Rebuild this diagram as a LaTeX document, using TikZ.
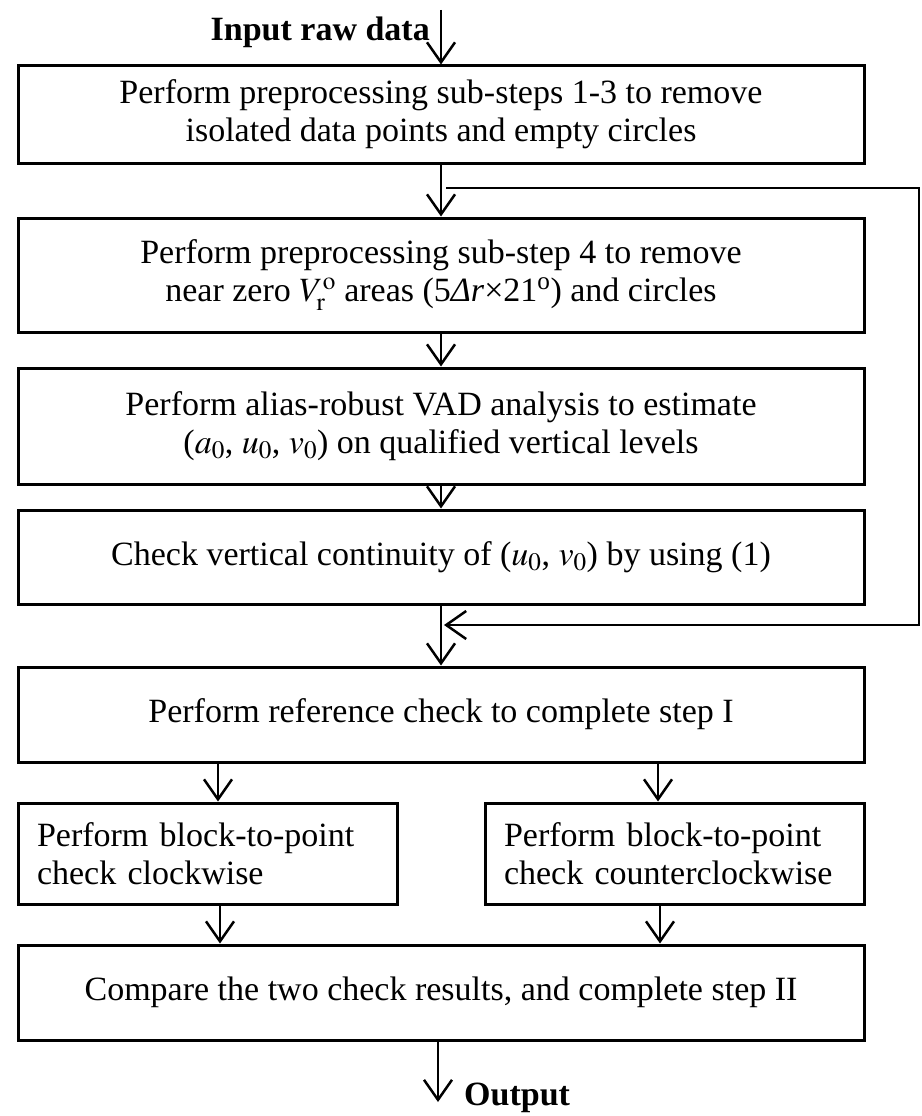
\documentclass[tikz,border=0pt]{standalone}
\usepackage{mathptmx}
\usepackage{fontspec}
\setmainfont{Liberation Serif}
\usetikzlibrary{arrows.meta}

\begin{document}
\begin{tikzpicture} [x=1pt, y=-1pt,
procbox/.style={draw, line width=3pt, minimum width=846pt, align=center, inner sep=0pt},
halfbox/.style={draw, line width=3pt, minimum width=379pt, minimum height=101pt,
                text width=341pt, align=left, inner sep=0pt},
flow/.style={line width=2.5pt, -{Straight Barb[length=20pt,width=28pt]}},
lbl/.style={font=\fontsize{34}{38}\selectfont\bfseries, inner sep=2pt},
font=\fontsize{34}{38}\selectfont,
]
    \useasboundingbox (0,0) rectangle (921,1116);
    \node [procbox, minimum height=97pt] (prep) at (441,114.5)
        {Perform preprocessing sub-steps 1-3 to remove\\isolated data points and empty circles};
    \node [procbox, minimum height=114pt] (sub4) at (441,275)
        {Perform preprocessing sub-step 4 to remove\\near zero $V_{\mathrm{r}}^{\mathrm{o}}$ areas (5\textit{Δr}×21\textsuperscript{o}) and circles};
    \node [procbox, minimum height=116pt] (vad) at (441,426)
        {Perform alias-robust VAD analysis to estimate\\($a_0$, $u_0$, $v_0$) on qualified vertical levels};
    \node [procbox, minimum height=94pt] (cont) at (441,557)
        {Check vertical continuity of ($u_0$, $v_0$) by using (1)};
    \node [procbox, minimum height=95pt] (refchk) at (441,714.5)
        {Perform reference check to complete step I};
    \node [halfbox] (cw) at (207.5,853.5) {Perform block-to-point\\check clockwise};
    \node [halfbox] (ccw) at (674.5,853.5) {Perform block-to-point\\check counterclockwise};
    \node [procbox, minimum height=95pt] (cmp) at (441,992.5)
        {Compare the two check results, and complete step II};

    % input and output
    \coordinate (in) at (441,10);
    \node [lbl, anchor=east] (inlbl) at (432,32) {Input raw data};
    \draw [flow] (in) -- (prep.north);
    \coordinate (out) at (438,1102);
    \node [lbl, anchor=west] (outlbl) at (462,1098) {Output};
    \draw [flow] (cmp.south -| out) -- (out);

    % main chain
    \draw [flow] (prep) -- (sub4);
    \draw [flow] (sub4) -- (vad);
    \draw [flow] (vad) -- (cont);
    \draw [flow] (cont) -- (refchk);

    % bypass on the right
    \coordinate (fbs) at (446,188);
    \coordinate (fbr) at (919,188);
    \coordinate (fbe) at (444,625);
    \draw [flow] (fbs) -- (fbr) |- (fbe);

    % two checks
    \coordinate (cwin) at ([xshift=10.5pt]cw.north);
    \coordinate (ccwin) at ([xshift=-16.5pt]ccw.north);
    \coordinate (cwout) at ([xshift=12.5pt]cw.south);
    \coordinate (ccwout) at ([xshift=-14.5pt]ccw.south);
    \draw [flow] (cwin |- refchk.south) -- (cwin);
    \draw [flow] (ccwin |- refchk.south) -- (ccwin);
    \draw [flow] (cwout) -- (cwout |- cmp.north);
    \draw [flow] (ccwout) -- (ccwout |- cmp.north);
\end{tikzpicture}
\end{document}
